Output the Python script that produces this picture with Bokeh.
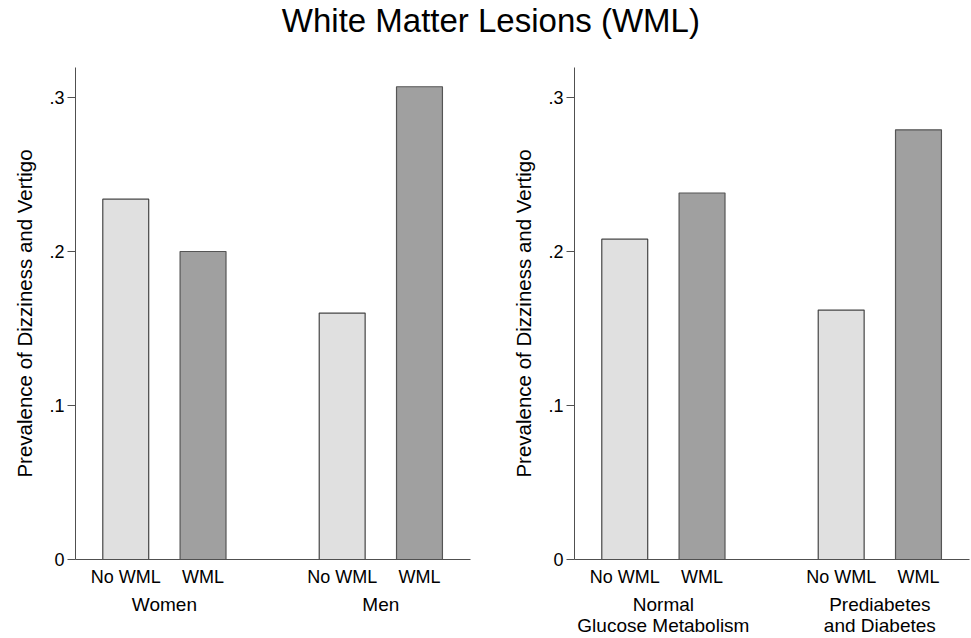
from bokeh.plotting import figure
from bokeh.models import Range1d, FixedTicker, LinearAxis, ColumnDataSource
from bokeh.layouts import column, row
from bokeh.embed import file_html
from bokeh.resources import INLINE
from bokeh.core.properties import value

# ---------------- data ----------------
TITLE = "White Matter Lesions (WML)"
Y_LABEL = "Prevalence of Dizziness and Vertigo"
BAR_LABELS = ["No WML", "WML"]

LEFT_GROUPS = ["Women", "Men"]
LEFT_NO_WML = [0.234, 0.160]
LEFT_WML = [0.200, 0.307]

RIGHT_GROUPS = ["Normal\nGlucose Metabolism", "Prediabetes\nand Diabetes"]
RIGHT_NO_WML = [0.208, 0.162]
RIGHT_WML = [0.238, 0.279]

Y_TICKS = [0, 0.1, 0.2, 0.3]
Y_TICK_LABELS = ["0", ".1", ".2", ".3"]

# ---------------- style ----------------
FONT = "Liberation Sans"
FILLS = ["#e0e0e0", "#a0a0a0"]
LINES = ["#454545", "#555555"]
AXIS_COLOR = "#505050"
IN_GROUP = 10      # distance between bars within a group (x units)
GROUP_STEP = 28    # distance between group starts
BAR_W = 5.94
PLOT_H = 578
Y_MAX = 0.3195


def make_panel(groups, no_wml, wml, width, border_left, border_right):
    xs, tops, fills, lines = [], [], [], []
    tick_pos, tick_lab, grp_pos, grp_lab = [], [], [], []
    for gi, g in enumerate(groups):
        base = gi * GROUP_STEP
        for bi, v in enumerate([no_wml[gi], wml[gi]]):
            x = base + bi * IN_GROUP
            xs.append(x)
            tops.append(v)
            fills.append(FILLS[bi])
            lines.append(LINES[bi])
            tick_pos.append(x)
            tick_lab.append(BAR_LABELS[bi])
        grp_pos.append(base + IN_GROUP // 2)
        grp_lab.append(g)

    src = ColumnDataSource(dict(x=xs, top=tops, fill=fills, line=lines))
    p = figure(width=width, height=PLOT_H,
               x_range=Range1d(-6.5, GROUP_STEP + IN_GROUP + 6.6),
               y_range=Range1d(0, Y_MAX),
               output_backend="svg", toolbar_location=None,
               min_border_left=border_left, min_border_right=border_right,
               min_border_top=7, min_border_bottom=79)
    p.outline_line_color = None
    p.grid.visible = False
    p.background_fill_color = "white"
    p.border_fill_color = "white"

    p.vbar(x="x", top="top", bottom=0, width=BAR_W, source=src,
           fill_color="fill", line_color="line", line_width=1.2)

    # y axis
    ya = p.yaxis[0]
    ya.ticker = FixedTicker(ticks=Y_TICKS)
    ya.major_label_overrides = {t: l for t, l in zip(Y_TICKS, Y_TICK_LABELS)}
    ya.axis_label = Y_LABEL
    ya.axis_label_text_font = FONT
    ya.axis_label_text_font_size = "20.5px"
    ya.axis_label_text_font_style = "normal"
    ya.axis_label_text_color = "black"
    ya.axis_label_standoff = 10
    ya.major_label_text_font = FONT
    ya.major_label_text_font_size = "18px"
    ya.major_label_text_color = "black"
    ya.major_label_standoff = 3
    ya.major_tick_out = 8
    ya.major_tick_in = 0
    ya.minor_tick_line_color = None
    ya.axis_line_color = AXIS_COLOR
    ya.major_tick_line_color = AXIS_COLOR

    # x axis: bar labels
    xa = p.xaxis[0]
    xa.ticker = FixedTicker(ticks=tick_pos)
    xa.major_label_overrides = {t: l for t, l in zip(tick_pos, tick_lab)}
    xa.major_label_text_font = FONT
    xa.major_label_text_font_size = "18px"
    xa.major_label_text_color = "black"
    xa.major_label_text_line_height = 1.0
    xa.major_label_standoff = 7
    xa.axis_label = None
    xa.axis_label_standoff = 0
    xa.major_tick_line_color = None
    xa.major_tick_out = 0
    xa.major_tick_in = 0
    xa.minor_tick_line_color = None
    xa.axis_line_color = AXIS_COLOR

    # x axis: group labels
    ga = LinearAxis(ticker=FixedTicker(ticks=grp_pos),
                    major_label_overrides={t: l for t, l in zip(grp_pos, grp_lab)})
    ga.major_label_text_font = FONT
    ga.major_label_text_font_size = "19px"
    ga.major_label_text_color = "black"
    ga.major_label_text_line_height = 1.0
    ga.major_label_standoff = 4
    ga.axis_label = None
    ga.axis_label_standoff = 0
    ga.major_tick_line_color = None
    ga.major_tick_out = 0
    ga.major_tick_in = 0
    ga.minor_tick_line_color = None
    ga.axis_line_color = None
    p.add_layout(ga, "below")
    return p


left = make_panel(LEFT_GROUPS, LEFT_NO_WML, LEFT_WML, 490, 75, 20)
right = make_panel(RIGHT_GROUPS, RIGHT_NO_WML, RIGHT_WML, 481, 84, 2)

tp = figure(width=971, height=60, x_range=Range1d(0, 1), y_range=Range1d(0, 60),
            output_backend="svg", toolbar_location=None,
            x_axis_location=None, y_axis_location=None, min_border=0)
tp.outline_line_color = None
tp.grid.visible = False
tp.text(x=[0.505], y=[39.7], text=[TITLE], text_align="center",
        text_baseline="alphabetic", text_font=value(FONT),
        text_font_size="33px", text_color="black")

layout = column(tp, row(left, right))
open("out.html", "w").write(file_html(layout, INLINE))
